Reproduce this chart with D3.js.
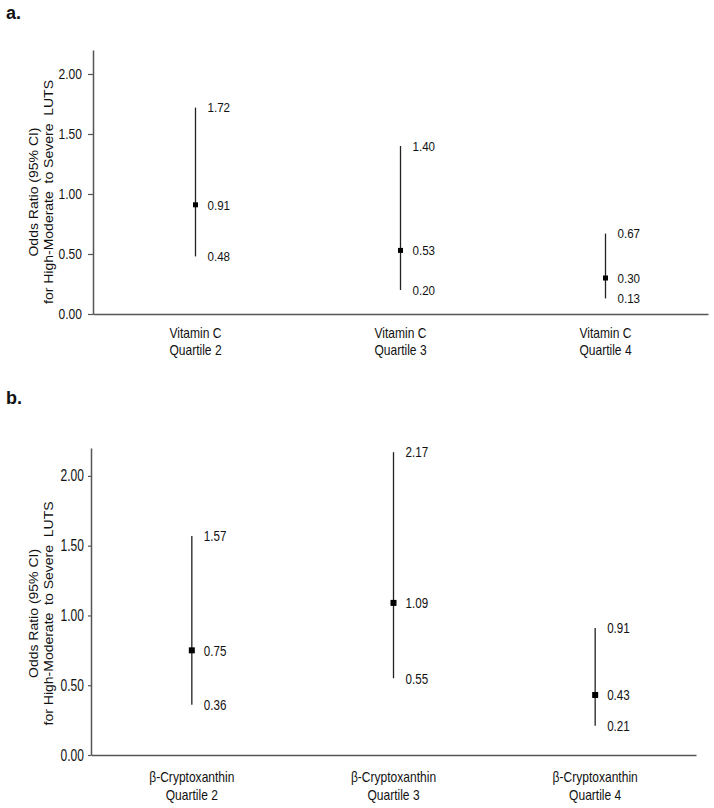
<!DOCTYPE html>
<meta charset="utf-8">

<head>
    <style>
        body { margin: 0; background: #fff; }
        svg text { font-family: "Liberation Sans", Arial, sans-serif; fill: #111; }
    </style>
</head>

<body>

    <script src="https://d3js.org/d3.v7.min.js"></script>

    <svg width="714" height="808"></svg>

    <script>

        // categories (x axis) and y ticks
        var quartiles = ["Quartile 2", "Quartile 3", "Quartile 4"];
        var yTicks = [0, 0.5, 1, 1.5, 2];
        var yMax = 2.2;

        // panel a: Vitamin C
        var vitCOR = [0.91, 0.53, 0.30];
        var vitCLo = [0.48, 0.20, 0.13];
        var vitCHi = [1.72, 1.40, 0.67];

        // panel b: beta-cryptoxanthin
        var cryptoOR = [0.75, 1.09, 0.43];
        var cryptoLo = [0.36, 0.55, 0.21];
        var cryptoHi = [1.57, 2.17, 0.91];

        var svg = d3.select("svg");
        var sx = 0.86; // the original figure is slightly squeezed sideways
        var fmt = d3.format(".2f");

        function drawPanel(p) {
            var x = d3.scaleBand().domain(quartiles).range([p.left, p.right]);
            var y = d3.scaleLinear().domain([0, yMax]).range([p.bottom, p.top]);
            var cx = function (d) { return x(d.q) + x.bandwidth() / 2; };

            var data = quartiles.map(function (q, i) {
                return { q: q, or: p.or[i], lo: p.lo[i], hi: p.hi[i] };
            });

            // panel letter
            svg.append("text")
                .attr("x", 6)
                .attr("y", p.letterY)
                .attr("font-size", "18px")
                .attr("font-weight", "bold")
                .text(p.letter);

            // y axis
            var ya = svg.append("g")
                .attr("transform", "translate(" + p.left + ",0)")
                .call(d3.axisLeft(y).tickValues(yTicks).tickFormat(fmt)
                    .tickSize(p.tick).tickSizeOuter(0).tickPadding(p.pad));
            ya.select(".domain").attr("stroke", "#555").attr("stroke-width", 1.5);
            ya.selectAll(".tick line").attr("stroke", "#555").attr("stroke-width", 1.2);
            ya.selectAll(".tick text")
                .attr("font-size", "14px")
                .attr("x", -(p.tick + p.pad) / sx)
                .attr("transform", "scale(" + sx + "," + p.sy + ")");

            // x axis, no ticks, two line labels
            var xa = svg.append("g")
                .attr("transform", "translate(0," + p.bottom + ")")
                .call(d3.axisBottom(x).tickSize(0).tickSizeOuter(0).tickFormat(""));
            xa.select(".domain").attr("stroke", "#555").attr("stroke-width", 1.5);
            xa.selectAll(".tick text").remove();
            var lab = xa.selectAll(".tick").append("text")
                .attr("text-anchor", "middle")
                .attr("font-size", "14px")
                .attr("transform", "scale(" + sx + ",1)");
            lab.append("tspan").attr("x", 0).attr("y", p.lab1).text(p.name);
            lab.append("tspan").attr("x", 0).attr("y", p.lab2).text(function (d) { return d; });

            // y axis title
            var yl = svg.append("text")
                .attr("transform", "translate(0," + (y(1) - 2) + ") scale(" + sx + ",1) rotate(-90)")
                .attr("text-anchor", "middle")
                .attr("font-size", "14px")
                .style("white-space", "pre");
            yl.append("tspan").attr("x", 0).attr("y", 38 / sx).text("Odds Ratio (95% CI)");
            yl.append("tspan").attr("x", 0).attr("y", 53 / sx).text("for High-Moderate  to Severe  LUTS");

            // confidence intervals
            svg.append("g").selectAll("line")
                .data(data)
                .enter().append("line")
                .attr("x1", cx).attr("x2", cx)
                .attr("y1", function (d) { return y(d.lo); })
                .attr("y2", function (d) { return y(d.hi); })
                .attr("stroke", "#222")
                .attr("stroke-width", 1.3);

            // point estimates
            svg.append("g").selectAll("rect")
                .data(data)
                .enter().append("rect")
                .attr("x", function (d) { return cx(d) - p.ms / 2; })
                .attr("y", function (d) { return y(d.or) - p.ms / 2; })
                .attr("width", p.ms)
                .attr("height", p.ms)
                .attr("fill", "#000");

            // value labels next to each bar
            ["hi", "or", "lo"].forEach(function (k) {
                svg.append("g").selectAll("text")
                    .data(data)
                    .enter().append("text")
                    .attr("transform", function (d) {
                        return "translate(" + (cx(d) + 12) + "," + y(d[k]) + ") scale(" + sx + "," + p.sy + ")";
                    })
                    .attr("dy", "0.35em")
                    .attr("font-size", "13.5px")
                    .text(function (d) { return fmt(d[k]); });
            });
        }

        drawPanel({
            name: "Vitamin C", or: vitCOR, lo: vitCLo, hi: vitCHi,
            letter: "a.", letterY: 19,
            left: 93, right: 708, top: 50, bottom: 314,
            tick: 5, pad: 6, sy: 1, ms: 5, lab1: 24, lab2: 41
        });

        drawPanel({
            name: "β-Cryptoxanthin", or: cryptoOR, lo: cryptoLo, hi: cryptoHi,
            letter: "b.", letterY: 404,
            left: 91, right: 696, top: 448, bottom: 755,
            tick: 3, pad: 4, sy: 1.12, ms: 6, lab1: 27, lab2: 45
        });

    </script>
</body>
</html>
